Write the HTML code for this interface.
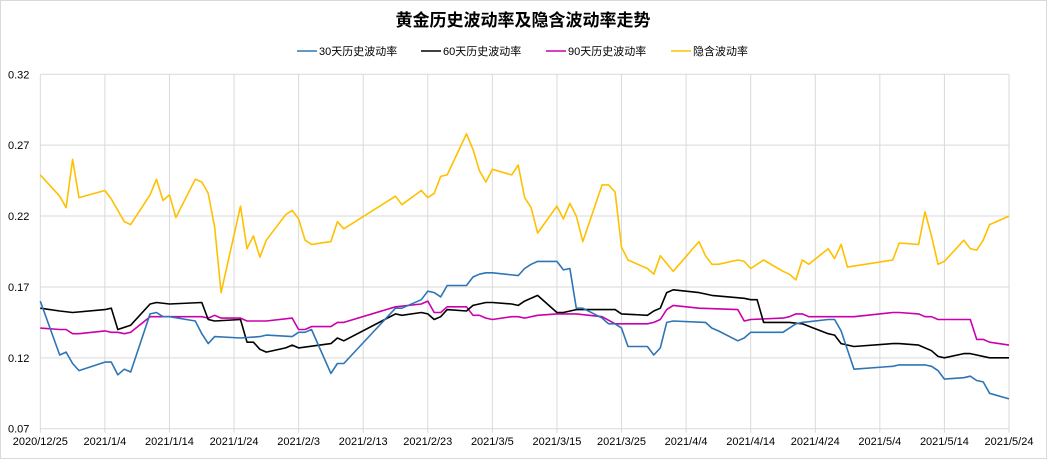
<!DOCTYPE html>
<html><head><meta charset="utf-8"><style>
body{margin:0;background:#fff;}
svg{display:block;font-family:"Liberation Sans","Noto Sans CJK SC",sans-serif;}
</style></head><body>
<svg id="chart" width="1047" height="459" viewBox="0 0 1047 459">
<rect x="0.5" y="0.5" width="1046" height="458" fill="#fff" stroke="#d9d9d9"/>
<text x="523" y="26" text-anchor="middle" font-size="17" font-weight="bold" fill="#000">黄金历史波动率及隐含波动率走势</text>
<g id="grid"></g>
<g id="series"></g>
<g id="legend"></g>
</svg>
<script>
const xTickLabels=["2020/12/25","2021/1/4","2021/1/14","2021/1/24","2021/2/3","2021/2/13","2021/2/23","2021/3/5","2021/3/15","2021/3/25","2021/4/4","2021/4/14","2021/4/24","2021/5/4","2021/5/14","2021/5/24"];
const yTicks=[0.07,0.12,0.17,0.22,0.27,0.32];
const seriesNames=["30天历史波动率","60天历史波动率","90天历史波动率","隐含波动率"];
const goldDays=[0,3,4,5,6,10,11,13,14,17,18,19,20,21,24,25,26,27,28,31,32,33,34,35,38,39,40,41,42,45,46,47,55,56,59,60,61,62,63,66,67,68,69,70,73,74,75,76,77,80,81,82,83,84,87,88,89,90,91,94,95,96,98,102,103,104,105,108,109,110,112,115,116,117,118,119,122,123,124,125,132,133,136,137,138,139,140,143,144,145,146,147,150];
const goldVals=[.249,.234,.226,.260,.233,.238,.232,.216,.214,.235,.246,.231,.235,.219,.246,.244,.236,.212,.166,.227,.197,.206,.191,.203,.221,.224,.218,.203,.200,.202,.216,.211,.234,.228,.238,.233,.236,.248,.249,.278,.267,.252,.244,.253,.249,.256,.233,.226,.208,.227,.218,.229,.220,.202,.242,.242,.237,.198,.189,.183,.179,.192,.181,.202,.192,.186,.186,.189,.188,.183,.189,.181,.179,.175,.189,.186,.197,.190,.200,.184,.189,.201,.200,.223,.206,.186,.188,.203,.197,.196,.203,.214,.220];
const h60Days=[0,3,5,10,11,12,14,17,18,20,25,26,27,31,32,33,34,35,38,39,40,45,46,47,55,56,59,60,61,62,63,66,67,69,70,73,74,75,77,80,81,83,88,89,90,94,95,96,97,98,102,103,104,109,110,111,112,115,116,118,122,123,124,126,132,133,136,138,139,140,143,144,147,150];
const h60Vals=[.155,.153,.152,.154,.155,.140,.143,.158,.159,.158,.159,.147,.146,.147,.131,.131,.126,.124,.127,.129,.127,.130,.134,.132,.151,.150,.152,.151,.147,.149,.154,.153,.157,.159,.159,.158,.157,.160,.164,.152,.152,.154,.154,.154,.151,.150,.153,.155,.166,.168,.166,.165,.164,.162,.161,.161,.145,.145,.145,.144,.137,.136,.130,.128,.130,.130,.129,.125,.121,.120,.123,.123,.120,.120];
const h90Days=[0,3,4,5,6,10,11,12,13,14,17,18,25,26,27,28,31,32,34,35,39,40,41,42,45,46,47,55,59,60,61,62,63,66,67,68,69,70,73,74,75,77,80,83,87,89,94,95,96,97,98,102,108,109,110,115,116,117,118,119,126,132,133,136,137,138,139,140,143,144,145,146,147,150];
const h90Vals=[.141,.140,.140,.137,.137,.139,.138,.138,.137,.138,.149,.149,.149,.148,.150,.148,.148,.146,.146,.146,.148,.140,.140,.142,.142,.145,.145,.156,.158,.160,.152,.152,.156,.156,.150,.150,.148,.147,.149,.149,.148,.150,.151,.151,.149,.144,.144,.145,.147,.154,.157,.155,.154,.146,.147,.148,.149,.151,.151,.149,.149,.152,.152,.151,.149,.149,.147,.147,.147,.147,.133,.133,.131,.129];
const h30Days=[0,3,4,5,6,10,11,12,13,14,17,18,19,20,24,25,26,27,31,34,35,39,40,41,42,45,46,47,55,56,59,60,61,62,63,66,67,68,69,70,74,75,76,77,80,81,82,83,84,87,88,89,90,91,94,95,96,97,98,103,104,105,108,109,110,111,115,116,117,118,122,123,124,126,132,133,136,137,138,139,140,143,144,145,146,147,150];
const h30Vals=[.160,.122,.124,.116,.111,.117,.117,.108,.112,.110,.151,.152,.149,.149,.146,.137,.130,.135,.134,.135,.136,.135,.138,.138,.140,.109,.116,.116,.155,.155,.161,.167,.166,.163,.171,.171,.177,.179,.180,.180,.178,.183,.186,.188,.188,.182,.183,.155,.155,.148,.144,.144,.141,.128,.128,.122,.127,.145,.146,.145,.141,.139,.132,.134,.138,.138,.138,.141,.144,.145,.147,.147,.139,.112,.114,.115,.115,.115,.114,.111,.105,.106,.107,.104,.103,.095,.091];
const colors=["#2e75b6","#000000","#cc00aa","#ffc000"];

const X0=40.3,X1=1009,Y0=428.7,Y1=74.3,NS="http://www.w3.org/2000/svg";
const xs=d=>X0+(X1-X0)*d/150;
const ys=v=>Y0-(v-0.07)/(0.32-0.07)*(Y0-Y1);
function mk(tag,attrs,parent){const e=document.createElementNS(NS,tag);for(const k in attrs)e.setAttribute(k,attrs[k]);parent.appendChild(e);return e;}
const grid=document.getElementById('grid');
yTicks.forEach(t=>{
  const l=mk('line',{x1:X0,x2:X1,y1:ys(t),y2:ys(t),stroke:'#d9d9d9','stroke-width':1},grid);
  
  
  const tx=mk('text',{x:8,y:ys(t)+4,'font-size':11,fill:'#000'},grid);
  tx.textContent=t.toFixed(2);
  
  
});
xTickLabels.forEach((s,i)=>{
  const x=xs(i*10);
  const l=mk('line',{x1:x,x2:x,y1:Y1,y2:Y0+4,stroke:'#d9d9d9','stroke-width':1},grid);
  
  
  const tx=mk('text',{x:x,y:445,'font-size':11,'text-anchor':'middle',fill:'#000'},grid);
  tx.textContent=s;
  
  
});
const sg=document.getElementById('series');
const all=[[h30Days,h30Vals],[h60Days,h60Vals],[h90Days,h90Vals],[goldDays,goldVals]];
const order=[3,2,1,0];
order.forEach(i=>{
  const [d,v]=all[i];
  const pts=d.map((dd,j)=>xs(dd).toFixed(1)+','+ys(v[j]).toFixed(1)).join(' ');
  const p=mk('polyline',{points:pts,fill:'none',stroke:colors[i],'stroke-width':1.6,'stroke-linejoin':'round'},sg);
  
  
});
const lg=document.getElementById('legend');
const lx=[297,421,546,671];
seriesNames.forEach((n,i)=>{
  const g=mk('g',{},lg);
  
  
  mk('line',{x1:lx[i],x2:lx[i]+20,y1:51,y2:51,stroke:colors[i],'stroke-width':1.6},g);
  const t=mk('text',{x:lx[i]+22,y:55,'font-size':11,fill:'#000'},g);
  t.textContent=n;
});
</script>
</body></html>
